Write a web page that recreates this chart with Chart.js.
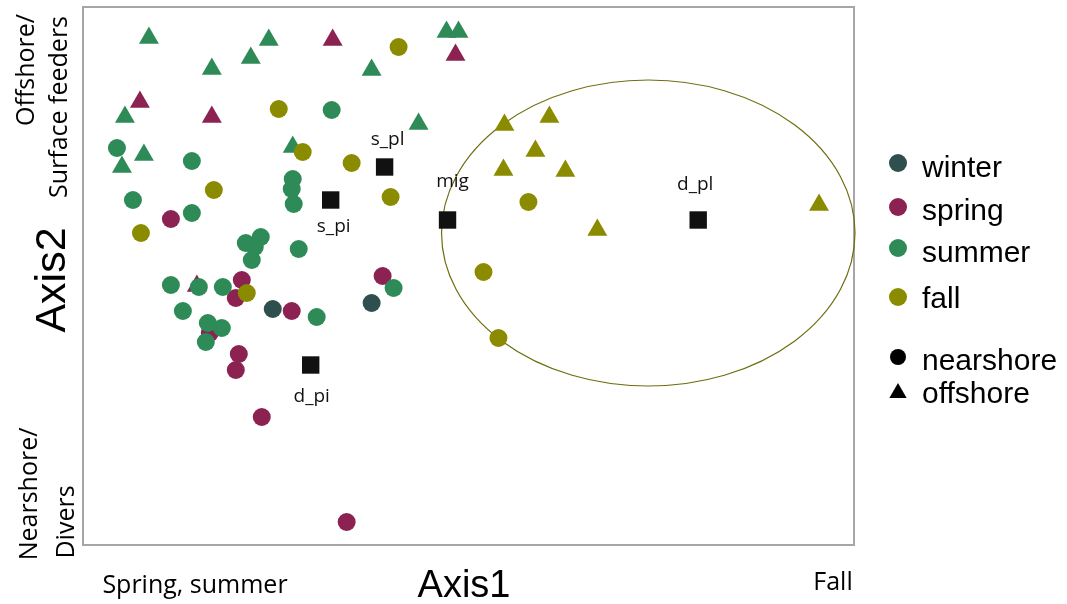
<!DOCTYPE html>
<html>
<head>
<meta charset="utf-8">
<script src="https://cdn.jsdelivr.net/npm/chart.js@4.4.1/dist/chart.umd.min.js"></script>
<style>
  body { margin: 0; background: #fff; }
  #wrap { width: 1067px; height: 604px; position: relative; }
</style>
</head>
<body>
<div id="wrap"><canvas id="ordination"></canvas></div>
<script>
// axis ranges (Axis1 / Axis2 in plot units)
const axis1Range = [0, 772];
const axis2Range = [0, 538];

// group centroids
const centroids = [[302, 378], [248, 345], [365, 325], [616, 325], [228, 180]];
const centroidNames = ["s_pl", "s_pi", "mig", "d_pl", "d_pi"];

// samples by season and habitat [Axis1, Axis2]
const winterNearshore = [[190, 236], [289, 242]];
const springNearshore = [[88, 326], [159, 265], [153, 247], [209, 234], [127, 212], [156, 191], [153, 175], [179, 128], [264, 23], [300, 269]];
const springOffshore = [[250, 505], [373, 490], [57, 443], [129, 428], [114, 259]];
const summerNearshore = [[249, 435], [34, 397], [109, 384], [50, 345], [109, 332], [210, 366], [209, 356], [211, 341], [163, 302], [178, 308], [172, 298], [169, 285], [216, 296], [88, 260], [116, 258], [140, 258], [100, 234], [125, 222], [139, 217], [123, 203], [234, 228], [311, 257]];
const summerOffshore = [[66, 507], [186, 505], [168, 487], [129, 476], [289, 475], [364, 513], [376, 513], [42, 428], [61, 390], [39, 378], [210, 398], [336, 421]];
const fallNearshore = [[316, 498], [196, 436], [220, 393], [269, 382], [131, 355], [308, 348], [58, 312], [164, 252], [446, 343], [401, 273], [416, 207]];
const fallOffshore = [[422, 420], [467, 428], [453, 394], [421, 375], [483, 374], [515, 315], [737, 340]];

// ellipse around the fall group
const fallEllipseCenter = [566, 312];
const fallEllipseRadii = [207, 153];

const seasons = ["winter", "spring", "summer", "fall"];
const habitats = ["nearshore", "offshore"];

const colors = {
    winter: "#2f4f4f",
    spring: "#8b2252",
    summer: "#2e8b57",
    fall: "#8b8b00",
    centroid: "#111111"
};

function toPoints(arr) {
    return arr.map(p => ({ x: p[0], y: p[1] }));
}

function markerSet(label, arr, color, style) {
    return {
        label: label,
        data: toPoints(arr),
        backgroundColor: color,
        borderColor: color,
        borderWidth: 0,
        pointStyle: style,
        pointRadius: style === "triangle" ? 11.5 : 9,
        clip: false
    };
}

// Frame and ellipse under the points
const backgroundPlugin = {
    id: "background",
    beforeDatasetsDraw(chart) {
        const ctx = chart.ctx;
        const a = chart.chartArea;
        const xs = chart.scales.x;
        const ys = chart.scales.y;
        ctx.save();
        ctx.strokeStyle = "#a6a6a6";
        ctx.lineWidth = 2;
        ctx.strokeRect(a.left, a.top, a.right - a.left, a.bottom - a.top);

        const cx = xs.getPixelForValue(fallEllipseCenter[0]);
        const cy = ys.getPixelForValue(fallEllipseCenter[1]);
        const rx = xs.getPixelForValue(fallEllipseCenter[0] + fallEllipseRadii[0]) - cx;
        const ry = cy - ys.getPixelForValue(fallEllipseCenter[1] + fallEllipseRadii[1]);
        ctx.beginPath();
        ctx.ellipse(cx, cy, rx, ry, 0, 0, Math.PI * 2);
        ctx.strokeStyle = "#6e6e10";
        ctx.lineWidth = 1.2;
        ctx.stroke();
        ctx.restore();
    }
};

// Centroid labels, axis texts and legend
const textPlugin = {
    id: "texts",
    afterDatasetsDraw(chart) {
        const ctx = chart.ctx;
        const xs = chart.scales.x;
        const ys = chart.scales.y;
        ctx.save();
        ctx.fillStyle = "#111";

        // label placement relative to each centroid
        const place = { s_pl: [3, -22], s_pi: [3, 32], mig: [5, -33], d_pl: [-3, -30], d_pi: [1, 37] };
        ctx.font = "19px 'Open Sans'";
        ctx.textAlign = "center";
        ctx.textBaseline = "alphabetic";
        centroids.forEach((c, i) => {
            const name = centroidNames[i];
            const off = place[name];
            ctx.fillText(name, xs.getPixelForValue(c[0]) + off[0], ys.getPixelForValue(c[1]) + off[1]);
        });

        // axis titles
        ctx.fillStyle = "#000";
        ctx.font = "38px 'Liberation Sans'";
        ctx.fillText("Axis1", 464, 597);
        ctx.font = "25px 'Open Sans'";
        ctx.fillText("Spring, summer", 195, 593);
        ctx.fillText("Fall", 833, 590);

        const vertical = (text, font, x, y) => {
            ctx.save();
            ctx.translate(x, y);
            ctx.rotate(-Math.PI / 2);
            ctx.font = font;
            ctx.textAlign = "center";
            ctx.fillText(text, 0, 0);
            ctx.restore();
        };
        vertical("Axis2", "43px 'Liberation Sans'", 65, 280);
        vertical("Offshore/", "25px 'Open Sans'", 34, 70);
        vertical("Surface feeders", "25px 'Open Sans'", 67, 107);
        vertical("Nearshore/", "25px 'Open Sans'", 37, 494);
        vertical("Divers", "25px 'Open Sans'", 74, 522);

        // legend
        ctx.font = "30px 'Liberation Sans'";
        ctx.textAlign = "left";
        const seasonRows = [163, 207, 248, 297];
        const seasonBase = [177, 220, 262, 308];
        seasons.forEach((s, i) => {
            ctx.fillStyle = colors[s];
            Chart.helpers.drawPoint(ctx, { pointStyle: "circle", radius: 9, borderWidth: 0, rotation: 0 }, 898, seasonRows[i]);
            ctx.fillStyle = "#000";
            ctx.fillText(s, 922, seasonBase[i]);
        });
        const habitatRows = [357, 393];
        const habitatBase = [370, 403];
        const habitatStyle = ["circle", "triangle"];
        habitats.forEach((h, i) => {
            ctx.fillStyle = "#000";
            Chart.helpers.drawPoint(ctx, { pointStyle: habitatStyle[i], radius: i === 0 ? 8 : 10, borderWidth: 0, rotation: 0 }, 898, habitatRows[i]);
            ctx.fillText(h, 922, habitatBase[i]);
        });
        ctx.restore();
    }
};

new Chart(document.getElementById("ordination"), {
    type: "scatter",
    data: {
        datasets: [
            {
                label: "centroids",
                data: toPoints(centroids),
                backgroundColor: colors.centroid,
                borderWidth: 0,
                pointStyle: "rect",
                pointRadius: 12.3,
                clip: false
            },
            markerSet("fall offshore", fallOffshore, colors.fall, "triangle"),
            markerSet("fall nearshore", fallNearshore, colors.fall, "circle"),
            markerSet("summer offshore", summerOffshore, colors.summer, "triangle"),
            markerSet("summer nearshore", summerNearshore, colors.summer, "circle"),
            markerSet("spring offshore", springOffshore, colors.spring, "triangle"),
            markerSet("spring nearshore", springNearshore, colors.spring, "circle"),
            markerSet("winter nearshore", winterNearshore, colors.winter, "circle")
        ]
    },
    options: {
        responsive: true,
        maintainAspectRatio: false,
        animation: false,
        layout: { autoPadding: false, padding: { left: 83, right: 213, top: 7, bottom: 59 } },
        plugins: {
            legend: { display: false },
            tooltip: { enabled: false }
        },
        scales: {
            x: { type: "linear", min: axis1Range[0], max: axis1Range[1], display: false },
            y: { type: "linear", min: axis2Range[0], max: axis2Range[1], display: false }
        }
    },
    plugins: [backgroundPlugin, textPlugin]
});
</script>
</body>
</html>
